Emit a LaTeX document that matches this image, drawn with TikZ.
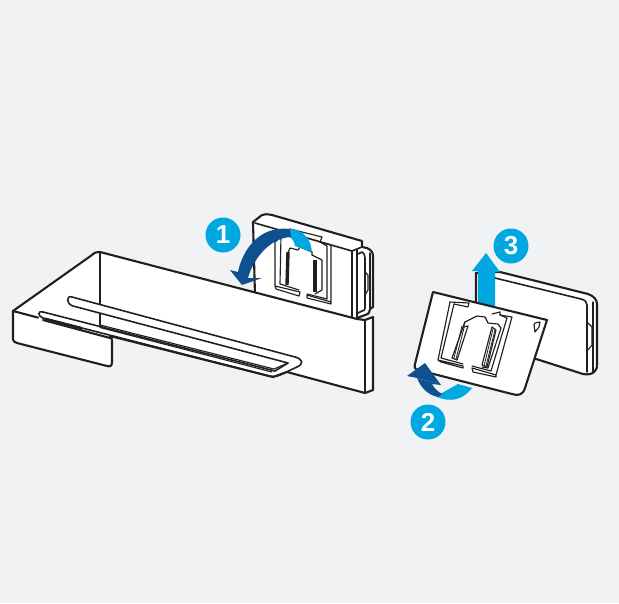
\documentclass[tikz,border=0pt]{standalone}
\usepackage{fontspec}
\setmainfont{Liberation Sans}
\definecolor{bgc}{HTML}{F1F2F4}
\definecolor{lblue}{HTML}{00A7E1}
\definecolor{dblue}{HTML}{0F5090}
\definecolor{ink}{HTML}{231F20}
\tikzset{
 ol/.style={draw=ink,line width=2.1pt,line join=round,line cap=round},
 mid ol/.style={draw=ink,line width=1.6pt,line join=round,line cap=round},
 thin ol/.style={draw=ink,line width=1.15pt,line join=round,line cap=round},
 heavy/.style={draw=ink,line width=3.4pt},
 wf/.style={fill=white},
 badge/.style={circle,fill=lblue,minimum size=35pt,inner sep=0pt,text=white,font=\fontsize{26}{26}\selectfont\bfseries},
}
\begin{document}
\begin{tikzpicture}[x=1pt,y=-1pt]
\useasboundingbox[fill=bgc] (0,0) rectangle (619,603);
% --- bracket behind the wall
\path[ol,wf] (253,222) -- (255,295) -- (356,322) -- (357,318) -- (365,315) .. controls (369,314) and (370,312) .. (370,309) -- (373,307) -- (373,256) .. controls (373,252) and (371,250) .. (367,248) -- (362,247) -- (362,241) -- (272,215) .. controls (267,214) and (265,214) .. (262,215) -- (253,222) -- cycle;
\draw[mid ol] (255,223) -- (352,251) -- (352,317);
\draw[mid ol] (352,251) -- (362,247);
\draw[thin ol] (357,250) -- (357,317);
\draw[mid ol] (358,254) -- (362,252) .. controls (364,253) and (365,255) .. (365,258) -- (365,308) .. controls (365,310) and (364,311) .. (362,311) -- (358,313);
\draw[thin ol] (365,272) -- (368,275) -- (368,290) -- (365,295);
\draw[thin ol] (370,253) -- (370,309);
% centre cut-out
\draw[thin ol] (290,229) -- (275,242) -- (275,286) -- (300,292) -- (299,296) -- (276,289) -- (275,286);
\draw[thin ol] (281,236) -- (280,284) -- (299,290);
\draw[thin ol] (290,229) -- (322,237) -- (320,242) -- (331,245) -- (331,302) -- (307,295) -- (307,298) -- (331,304) -- (331,302);
\draw[thin ol] (320,242) -- (327,246) -- (327,299) -- (307,294);
\draw[heavy] (288,252) -- (287,285);
\draw[heavy] (315,260) -- (315,292);
\draw[thin ol] (288,253) -- (290,248) -- (298,250) -- (300,247);
\draw[thin ol] (312,252) -- (312,255) -- (318,258) -- (322,260) -- (322,290) -- (315,294);
\draw[thin ol] (300,247) -- (312,252);
% --- shelf
\path[ol,wf] (100,252) -- (357,319) -- (365,320) -- (373,317) -- (373,390) -- (365,393) -- (287,372) -- (273,377) -- (110,336) .. controls (112,338) and (112,340) .. (112,344) -- (112,362) .. controls (112,366) and (110,367) .. (107,366) -- (17,343) .. controls (14,342) and (13,341) .. (13,339) -- (13,311) -- (92,255) .. controls (95,252) and (97,252) .. (100,252) -- cycle;
\draw[ol] (365,320) -- (365,393);
\draw[ol] (13,311) -- (38,317.6);
\draw[ol] (43,320) -- (110,338);
\draw[mid ol] (100,252) -- (100,325);
% rail: white body of the far bar, then its edges
\fill[white] (72,297) -- (295,357) -- (288,363) -- (73,306) .. controls (66,304) and (66,295) .. (72,297) -- cycle;
\draw[mid ol] (73,306) .. controls (66,304) and (66,295) .. (72,297) -- (295,357) .. controls (303,359) and (304,364) .. (297,367) -- (280,375) .. controls (276,377) and (270,377) .. (265,375) -- (43,318) .. controls (37,316) and (38,310) .. (43,312) -- (275,371) -- (288,363) -- (73,306);
\draw[thin ol] (100,325) -- (274,369) -- (288,363);
\draw[thin ol] (100,327.5) -- (272,372);
\fill[ink] (45,317.5) -- (82,327) -- (82,329.5) -- (45,320) -- cycle;
% --- arrow 1
\fill[lblue] (289,229) .. controls (304,229) and (311,240) .. (312,252) -- (295,246) .. controls (294,241) and (292,238) .. (289,237) -- cycle;
\fill[dblue] (290,229) .. controls (258,225) and (242,252) .. (238,272) -- (230,270) -- (242,285) -- (262,278) -- (248,278) .. controls (252,262) and (268,238) .. (291,237) -- cycle;
\node[badge] (one) at (223,235) {1};
% --- back plate
\path[ol,wf] (476,273) -- (476,304) -- (530,357) -- (583,374) .. controls (588,375) and (593,374) .. (595,371) .. controls (597,369) and (597,367) .. (597,364) -- (597,304) .. controls (597,300) and (594,296) .. (588,294) -- (500,272) -- (476,273) -- cycle;
\draw[mid ol] (495,278) -- (581,299) .. controls (585,300) and (587,302) .. (587,305) -- (587,372);
\draw[thin ol] (593,302) -- (593,372);
\draw[thin ol] (588,323) -- (592,327) -- (592,345) -- (588,350);
% --- arrow 3
\fill[lblue] (486,253) -- (500,272) -- (495,272) -- (495,310) -- (478,310) -- (478,271) -- (472,271) -- cycle;
\draw[ol] (476,273) -- (476,302);
% --- front plate
\path[ol,wf] (433,292) -- (547,320) -- (525,388) .. controls (523,395) and (518,396) .. (512,394) -- (418,370) .. controls (415,369) and (414,367) .. (415,364) -- (433,292) -- cycle;
% hinge tab
\draw[thin ol] (534,325) -- (535,323) -- (540,322) -- (539,327) -- (535,332) -- (534,325);
% cut-out on front plate
\draw[thin ol] (450,302) -- (438,360) -- (463,366) -- (463,368) -- (441,362) -- (438,360);
\draw[thin ol] (454,304) -- (441,358) -- (463,364);
\draw[thin ol] (450,302) -- (469,303) -- (468,307) -- (454,304);
\draw[thin ol] (500,312) -- (500,315) -- (512,317) -- (496,375) -- (472,368) -- (473,372) -- (496,377) -- (496,375);
\draw[thin ol] (492,314) -- (500,312);
\draw[thin ol] (500,315) -- (507,318) -- (491,371) -- (472,366);
% inner plate shape
\draw[thin ol] (463,327) -- (465,322) -- (473,318) -- (477,316) -- (485,317) -- (488,323) -- (498,324) -- (501,328) -- (488,368) -- (482,367);
\draw[thin ol] (465,322) -- (452,358) -- (457,360) -- (468,326) -- (463,327);
\draw[thin ol] (492,327) -- (482,365) -- (487,367) -- (496,330) -- cycle;
\draw[draw=ink,line width=.8pt] (462,326) -- (454,358);
\draw[draw=ink,line width=.8pt] (464.5,326) -- (456,359);
\draw[draw=ink,line width=.8pt] (493,329) -- (484,366);
\draw[draw=ink,line width=.8pt] (495,330) -- (486,366);
% --- arrow 2
\fill[lblue] (472,388) .. controls (462,401) and (450,402) .. (437,397) -- (437,393) -- (442,393) -- (458,384) -- cycle;
\fill[dblue] (425,363) -- (441,385) -- (432,384) .. controls (434,388) and (437,391) .. (442,394) -- (438,397) .. controls (428,395) and (421,388) .. (417,378) -- (407,376) -- cycle;
\draw[white,opacity=.35,line width=.5pt,dash pattern=on 2pt off 1.5pt] (411,377) -- (437,383);
\node[badge] (two) at (428,422) {2};
\node[badge] (three) at (511,246) {3};
\end{tikzpicture}
\end{document}
